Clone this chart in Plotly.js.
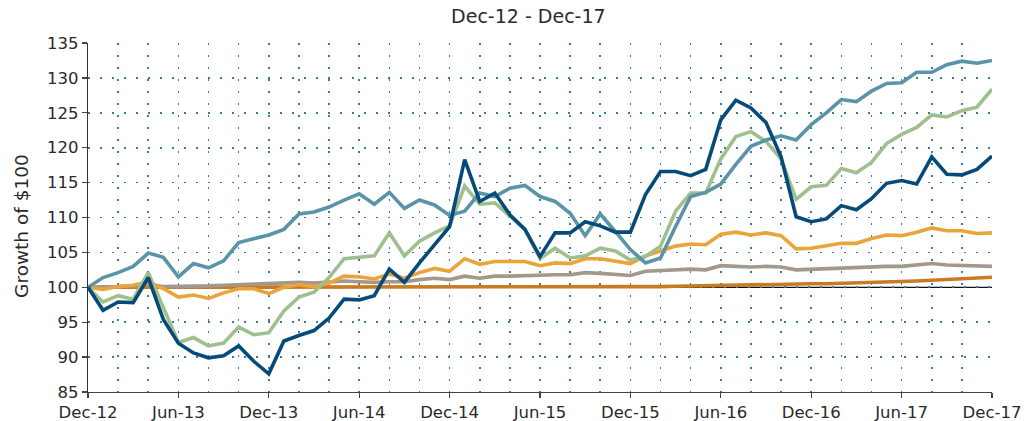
<!DOCTYPE html>
<html>
<head>
<meta charset="utf-8">
<script src="https://cdn.plot.ly/plotly-3.0.1.min.js"></script>
<style>
html,body{margin:0;padding:0;background:#fff;}
#chart{width:1036px;height:421px;}
</style>
</head>
<body>
<div id="chart"></div>
<script>
var months = [
 "Dec-12",
 "Jan-13","Feb-13","Mar-13","Apr-13","May-13","Jun-13","Jul-13","Aug-13","Sep-13","Oct-13","Nov-13","Dec-13",
 "Jan-14","Feb-14","Mar-14","Apr-14","May-14","Jun-14","Jul-14","Aug-14","Sep-14","Oct-14","Nov-14","Dec-14",
 "Jan-15","Feb-15","Mar-15","Apr-15","May-15","Jun-15","Jul-15","Aug-15","Sep-15","Oct-15","Nov-15","Dec-15",
 "Jan-16","Feb-16","Mar-16","Apr-16","May-16","Jun-16","Jul-16","Aug-16","Sep-16","Oct-16","Nov-16","Dec-16",
 "Jan-17","Feb-17","Mar-17","Apr-17","May-17","Jun-17","Jul-17","Aug-17","Sep-17","Oct-17","Nov-17","Dec-17"
];
var tickLabels = ["Dec-12","Jun-13","Dec-13","Jun-14","Dec-14","Jun-15","Dec-15","Jun-16","Dec-16","Jun-17","Dec-17"];

var navy = [100,96.7,97.9,97.8,101.4,95.4,92.0,90.6,89.9,90.2,
 91.6,89.4,87.6,92.3,93.1,93.8,95.6,98.3,98.2,98.8,
 102.6,100.7,103.5,106.1,108.7,118.3,112.3,113.5,110.4,108.3,
 104.4,107.8,107.8,109.4,108.8,107.9,107.9,113.3,116.6,116.6,
 116.0,116.9,124.0,126.8,125.7,123.6,118.7,110.1,109.4,109.8,
 111.7,111.1,112.7,114.9,115.3,114.8,118.7,116.2,116.1,116.9,118.8];
var steel = [100,101.4,102.1,103.0,104.9,104.3,101.5,103.4,102.8,103.8,
 106.4,107.0,107.5,108.3,110.5,110.8,111.5,112.5,113.4,111.9,
 113.6,111.3,112.5,111.8,110.3,110.9,113.5,113.0,114.2,114.6,
 113.0,112.3,110.6,107.4,110.5,108.0,105.4,103.5,104.2,108.7,
 113.0,113.6,114.8,117.6,120.2,121.1,121.7,121.1,123.3,125.0,
 126.9,126.6,128.1,129.2,129.3,130.8,130.8,131.9,132.4,132.1,132.5];
var green = [100,97.9,98.8,98.3,102.1,97.0,92.1,92.8,91.6,92.0,
 94.3,93.2,93.5,96.6,98.6,99.3,101.4,104.1,104.3,104.5,
 107.8,104.5,106.6,107.8,108.8,114.5,111.9,112.1,110.2,108.3,
 104.1,105.6,104.2,104.5,105.6,105.2,103.9,104.4,105.9,110.9,
 113.5,113.5,118.4,121.6,122.3,120.9,118.4,112.6,114.4,114.6,
 117.0,116.4,117.9,120.6,121.9,122.9,124.7,124.4,125.3,125.8,128.4];
var orange = [100,99.7,100.1,100.3,100.8,99.8,98.6,98.9,98.4,99.2,
 99.8,99.8,99.1,100.0,100.4,100.1,100.6,101.6,101.5,101.2,
 101.9,101.3,102.1,102.7,102.3,104.1,103.3,103.7,103.7,103.7,
 103.1,103.5,103.4,104.1,104.1,103.8,103.4,104.5,105.2,105.9,
 106.2,106.1,107.6,107.9,107.5,107.8,107.4,105.5,105.6,105.9,
 106.3,106.3,107.0,107.5,107.4,107.9,108.5,108.1,108.1,107.7,107.8];
var gray = [100,100.0,100.1,100.2,100.4,100.1,100.1,100.2,100.2,100.3,
 100.4,100.5,100.5,100.6,100.7,100.6,100.7,100.9,100.8,100.7,
 100.8,100.8,101.1,101.3,101.1,101.6,101.3,101.6,101.6,101.7,
 101.8,101.8,101.8,102.1,102.0,101.8,101.7,102.3,102.4,102.5,
 102.6,102.5,103.1,103.0,102.9,103.0,102.9,102.5,102.6,102.7,
 102.7,102.8,102.9,103.0,103.0,103.2,103.4,103.2,103.1,103.0,103.0];
var darkOrange = [100,100,100,100,100,100,100,100,100,100,
 100,100,100,100,100,100,100,100,100,100,
 100,100,100,100,100,100,100,100,100,100,
 100,100,100,100,100,100.05,100.1,100.1,100.1,100.15,
 100.2,100.2,100.2,100.25,100.3,100.35,100.4,100.45,100.5,100.5,
 100.55,100.6,100.65,100.75,100.85,100.9,101.0,101.1,101.2,101.3,101.45];

var xIdx = months.map(function(m, i){ return i; });
var tickVals = tickLabels.map(function(t){ return months.indexOf(t); });

function line(y, color, name){
  return {x: xIdx, y: y, type: 'scatter', mode: 'lines', name: name,
    text: months, hoverinfo: 'text+y',
    line: {color: color, width: 3.6, shape: 'linear'}};
}
var data = [
  line(darkOrange, '#c97b22', 'Series 6'),
  line(gray, '#a3988b', 'Series 5'),
  line(orange, '#eba43a', 'Series 4'),
  line(green, '#9fbf8f', 'Series 3'),
  line(steel, '#5a94a9', 'Series 2'),
  line(navy, '#064a7a', 'Series 1')
];

var gridDot = {gridcolor: '#3b78a6', griddash: '1.6px,10.4px', gridwidth: 1.6};
var fontFam = '"DejaVu Sans", Verdana, sans-serif';
var txtColor = '#2a2a2a';

var layout = {
  width: 1036, height: 421,
  margin: {l: 88, r: 44, t: 43, b: 29, pad: 0},
  paper_bgcolor: '#fff', plot_bgcolor: '#fff',
  showlegend: false,
  font: {family: fontFam, color: txtColor, size: 16.5},
  title: {text: 'Dec-12 - Dec-17', font: {family: fontFam, size: 19, color: txtColor},
          xref: 'container', x: 0.51, xanchor: 'center', yref: 'container', y: 0.962, yanchor: 'middle'},
  xaxis: {
    type: 'linear', range: [0, 60], tickvals: tickVals, ticktext: tickLabels,
    showline: true, linecolor: '#444', linewidth: 1.3,
    ticks: 'outside', ticklen: 5, tickwidth: 1.3, tickcolor: '#444',
    showgrid: true, gridcolor: gridDot.gridcolor, griddash: gridDot.griddash, gridwidth: gridDot.gridwidth,
    minor: {dtick: 2, tick0: 0, showgrid: true, gridcolor: gridDot.gridcolor, griddash: gridDot.griddash, gridwidth: gridDot.gridwidth, ticks: ''},
    zeroline: false, tickfont: {size: 16.5, color: txtColor}, fixedrange: true
  },
  yaxis: {
    range: [85, 135], dtick: 5, tick0: 85,
    showline: true, linecolor: '#333', linewidth: 1.3,
    ticks: 'outside', ticklen: 5, tickwidth: 1.3, tickcolor: '#444',
    showgrid: true, gridcolor: gridDot.gridcolor, griddash: gridDot.griddash, gridwidth: gridDot.gridwidth,
    zeroline: false, tickfont: {size: 16.5, color: txtColor},
    fixedrange: true
  },
  annotations: [{text: 'Growth of $100', textangle: -90, showarrow: false,
    xref: 'paper', x: -0.073, xanchor: 'center',
    yref: 'paper', y: 0.476, yanchor: 'middle',
    font: {family: fontFam, size: 18.5, color: txtColor}}],
  shapes: [{type: 'line', xref: 'paper', x0: 0, x1: 1, yref: 'y', y0: 100, y1: 100,
            line: {color: '#111', width: 1.2}, layer: 'below'}]
};

Plotly.newPlot('chart', data, layout, {displayModeBar: false, staticPlot: true});
</script>
</body>
</html>
